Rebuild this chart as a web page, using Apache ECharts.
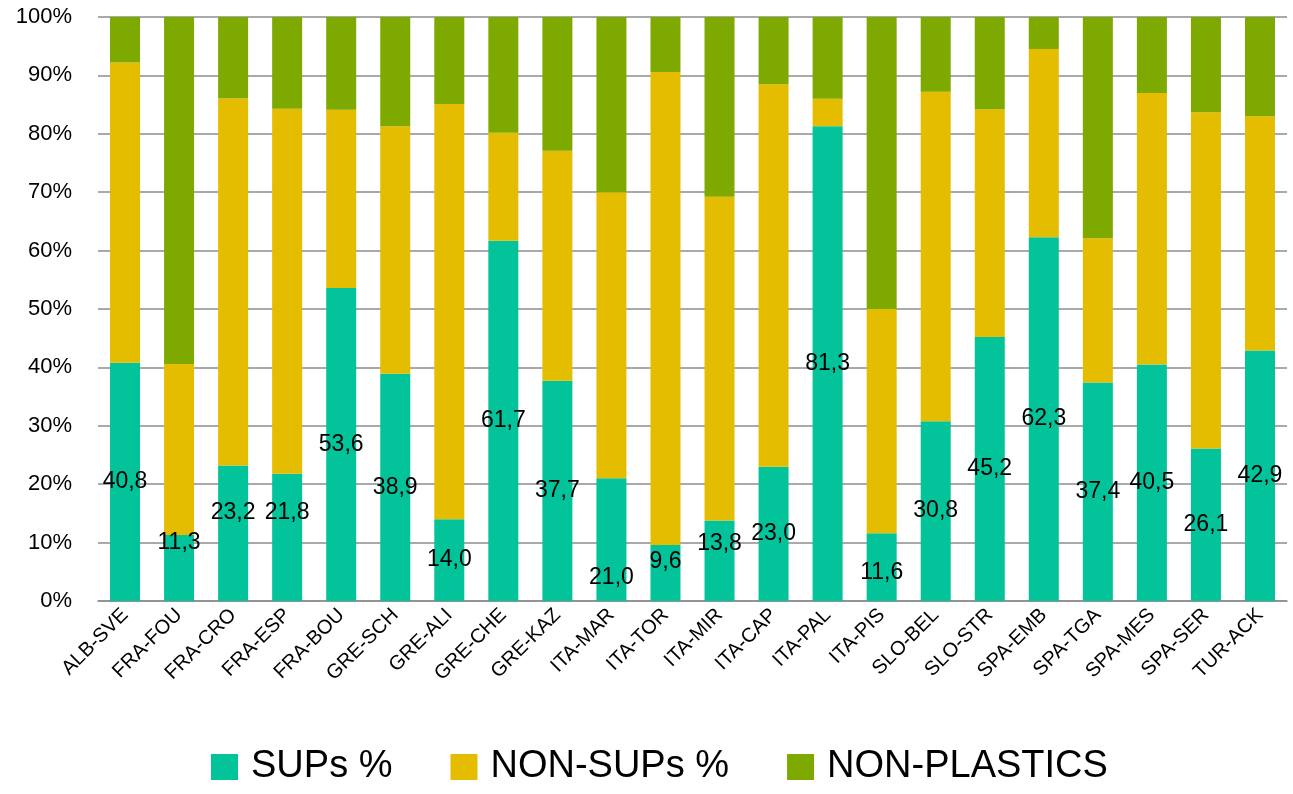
<!DOCTYPE html>
<html>
<head>
<meta charset="utf-8">
<script src="https://cdn.jsdelivr.net/npm/echarts@6/dist/echarts.min.js"></script>
<style>
  html, body { margin: 0; padding: 0; background: #fff; }
  #chart { width: 1293px; height: 794px; }
</style>
</head>
<body>
<div id="chart"></div>
<script>
// sites
const sites = ["ALB-SVE", "FRA-FOU", "FRA-CRO", "FRA-ESP", "FRA-BOU", "GRE-SCH", "GRE-ALI", "GRE-CHE",
  "GRE-KAZ", "ITA-MAR", "ITA-TOR", "ITA-MIR", "ITA-CAP", "ITA-PAL", "ITA-PIS", "SLO-BEL",
  "SLO-STR", "SPA-EMB", "SPA-TGA", "SPA-MES", "SPA-SER", "TUR-ACK"];

// SUPs share (%)
const sups = [40.8, 11.3, 23.2, 21.8, 53.6, 38.9, 14.0, 61.7, 37.7, 21.0, 9.6, 13.8,
  23.0, 81.3, 11.6, 30.8, 45.2, 62.3, 37.4, 40.5, 26.1, 42.9];

// cumulative plastics (SUPs + NON-SUPs)
const plastics = [92.2, 40.6, 86.1, 84.3, 84.1, 81.3, 85.1, 80.2, 77.1, 70.0, 90.6, 69.2,
  88.5, 86.0, 50.0, 87.2, 84.2, 94.5, 62.1, 87.0, 83.7, 83.0];

const nonSups = plastics.map((p, i) => +(p - sups[i]).toFixed(1));
const nonPlastics = plastics.map(p => +(100 - p).toFixed(1));

const yTicks = [0, 10, 20, 30, 40, 50, 60, 70, 80, 90, 100];

// labels were nudged by hand in the original
const labelNudge = { 1: -25, 2: -21, 3: -25, 9: 38, 10: -11, 11: -17, 14: 6 };

const font = "'Liberation Sans', Arial, sans-serif";

let chart = echarts.init(document.getElementById("chart"));

chart.setOption({
  animation: false,
  textStyle: { fontFamily: font },
  grid: { left: 98, right: 6, top: 17, bottom: 193 },
  legend: {
    top: 743,
    left: 206,
    itemWidth: 27,
    itemHeight: 26,
    itemGap: 58,
    textStyle: { fontSize: 38, color: "#000", fontFamily: font, padding: [0, 0, 0, 8] },
    icon: "rect",
    data: ["SUPs %", "NON-SUPs %", "NON-PLASTICS"],
  },
  xAxis: {
    type: "category",
    data: sites,
    axisLine: { lineStyle: { color: "#8c8c8c", width: 1.5 } },
    axisTick: { show: false },
    axisLabel: { rotate: 45, fontSize: 20, color: "#000", margin: 11, interval: 0 },
  },
  yAxis: {
    type: "value",
    min: 0,
    max: 100,
    interval: 10,
    axisLine: { show: false },
    axisTick: { show: false },
    axisLabel: {
      fontSize: 22,
      color: "#000",
      margin: 26,
      formatter: v => (yTicks.includes(v) ? v + "%" : ""),
    },
    splitLine: { lineStyle: { color: "#8c8c8c", width: 1.5 } },
  },
  series: [
    {
      name: "SUPs %",
      type: "bar",
      stack: "all",
      barWidth: 30,
      itemStyle: { color: "#03C39A" },
      label: {
        show: true,
        position: "inside",
        color: "#000",
        fontSize: 23,
        formatter: p => p.value.toFixed(1).replace(".", ","),
      },
      data: sups.map((v, i) =>
        labelNudge[i] !== undefined
          ? { value: v, label: { offset: [0, labelNudge[i]] } }
          : v
      ),
    },
    {
      name: "NON-SUPs %",
      type: "bar",
      stack: "all",
      barWidth: 30,
      itemStyle: { color: "#E4BC00" },
      data: nonSups,
    },
    {
      name: "NON-PLASTICS",
      type: "bar",
      stack: "all",
      barWidth: 30,
      itemStyle: { color: "#7DA900" },
      data: nonPlastics,
    },
  ],
});
</script>
</body>
</html>
